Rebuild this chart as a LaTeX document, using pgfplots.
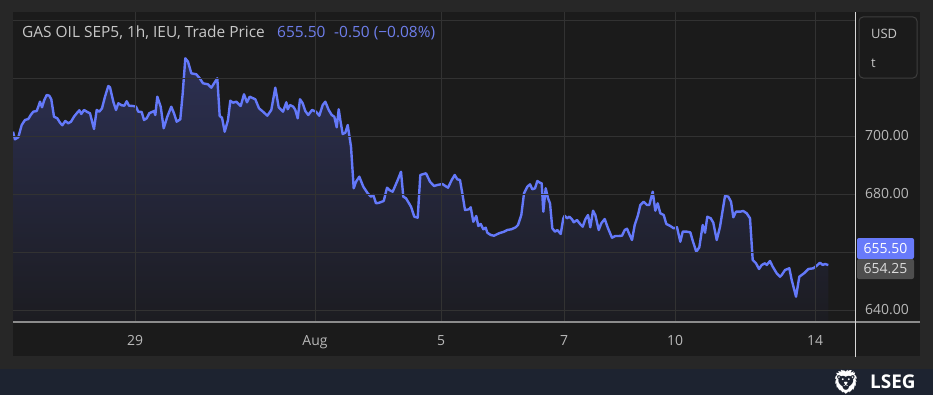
\documentclass[border=0pt]{standalone}
\usepackage{pgfplots}
\pgfplotsset{compat=1.18}
\usepackage{pgfplotstable}
\usepackage{fontspec}
\setmainfont{Open Sans}
\newfontfamily\emojifont{Noto Emoji}
\definecolor{bgout}{RGB}{39,39,39}
\definecolor{panel}{RGB}{27,27,27}
\definecolor{strip}{RGB}{29,35,48}
\definecolor{gridc}{RGB}{50,50,50}
\definecolor{linec}{RGB}{100,121,250}
\definecolor{txtc}{RGB}{200,200,200}
\definecolor{tickc}{RGB}{185,185,185}
\definecolor{bluetxt}{RGB}{110,126,235}
\definecolor{filltop}{RGB}{44,48,82}
\definecolor{fillbot}{RGB}{28,28,33}
\definecolor{lblblue}{RGB}{104,122,250}
\definecolor{lblgray}{RGB}{78,78,78}
\definecolor{boxc}{RGB}{62,62,62}
\definecolor{axisc}{RGB}{140,140,140}

\pgfplotstableread{
x y
13 701.48
15 698.86
18.3 699.55
21.7 703.79
25 705.52
28.3 705.86
30.7 707.24
33.3 708.38
36.7 708.62
38.3 710.10
40 711.83
42 709.90
44.3 712.41
46.7 714.14
49.3 713.90
51.3 712.66
54 706.66
57.3 706.10
60 704.59
62.3 703.69
65.3 705.17
68.3 704.38
71 704.93
74 706.66
76.7 707.83
79.3 708.86
81.3 707.59
84 708.97
87.3 708.28
90 707.83
94 702.41
96.7 708.97
99.3 708.38
102 709.55
105 713.55
108.3 717.24
110 716.79
113.3 711.83
116 708.97
118.3 711.28
121.7 710.59
124.3 710.45
126.7 711.97
129 710.45
133.3 710.34
136 710.10
138.3 708.38
141.7 708.28
144 705.52
146.7 706.10
149.3 707.83
151.3 708.17
154 708.62
155.3 707.24
157.3 713.55
160.7 710.10
163.7 702.66
167.3 706.66
171.3 710.10
174 707.83
176.7 704.93
180.3 705.76
182.7 714.72
185.3 726.79
188 725.62
191.3 721.62
196.3 721.28
199.7 719.90
203 718.17
208 717.83
211.3 716.66
217.3 719.90
219.7 706.90
222 706.31
224.7 701.48
228 705.52
230.3 712.17
233 711.48
236.3 711.83
240.7 710.34
244 714.38
247 711.62
249.7 713.55
255.3 712.66
259 709.55
263 708.38
267.3 707.00
271.3 708.97
275.3 716.66
278.7 709.90
283 708.38
286.3 711.62
287.7 709.21
290 710.69
293.3 710.10
295.3 708.97
297.7 706.10
300 712.66
302.7 711.28
305.3 708.62
308.3 707.24
312 708.97
316 708.38
319.3 707.00
322.7 710.69
325.3 711.83
328.7 708.97
331.7 707.24
334.3 706.66
336.7 703.00
338.7 709.21
340.3 705.52
342.7 700.69
345.3 701.14
347.7 703.79
351 696.31
353.7 681.97
356 684.24
359.3 685.97
363.3 682.52
367.7 680.24
371 679.07
373.3 679.66
376 676.79
379.3 677.00
383.7 677.59
387 682.17
389.3 681.38
392.7 680.79
397.7 684.83
401 687.69
403.3 679.07
406 678.52
411 675.62
414.3 672.17
417.7 671.83
420.3 686.55
426 687.14
430 684.24
434 682.76
437.3 683.10
442.3 683.45
448 682.17
451.7 684.83
454.7 686.55
457.3 685.07
460 684.83
462.3 680.24
465 674.48
469 674.72
470.7 675.41
473.3 670.45
476.3 672.41
478.3 668.97
480.7 669.66
483.3 667.83
485.7 668.38
487.3 666.66
490.7 665.86
494 665.62
499 666.45
504 667.00
507.3 667.59
511.3 667.83
515.7 668.52
518 669.31
521.3 672.76
524 680.24
527.3 682.52
530 683.34
532.3 681.62
535 681.97
537.3 684.48
540 683.90
541.7 683.69
543.3 673.90
545.7 681.97
548 678.52
550 676.79
552.3 668.17
555 667.00
557.3 667.59
560.7 666.21
563.3 671.62
564.7 672.52
567 671.62
569.3 672.17
572 671.28
573.7 670.24
577 671.03
580.3 669.55
582.7 668.72
585.3 671.28
588 672.76
590.3 668.52
593 674.24
595.3 672.76
598.7 667.59
601.3 669.90
604.7 671.38
608 668.17
612 664.93
615.3 665.52
618.7 665.52
622 665.62
624.7 667.59
627 668.03
629.7 665.86
632 664.14
634.7 669.31
638 672.76
640.3 676.21
643.7 677.34
647 676.21
649.3 676.21
652.7 680.79
655.3 674.24
657.7 676.79
660.3 673.34
663.7 672.76
666.3 669.66
670.3 668.97
673.7 668.17
677 668.52
680.3 663.55
682.7 667.00
687 667.00
690.3 666.79
693 663.55
696.3 660.10
699.3 661.62
702.7 669.31
705 666.66
707.3 672.17
710.7 671.62
713.3 670.10
716.7 664.14
720 668.72
722.7 674.48
725 679.31
728.3 679.07
731 677.34
733.3 671.97
736 673.90
740 673.90
743.3 674.14
746.7 673.34
750 671.62
752.7 657.24
756 656.10
759 654.14
761.7 655.52
765 656.10
766.7 655.52
770 656.90
772.7 654.93
776.7 652.66
780 651.48
781.7 652.07
785 653.79
789.3 654.38
791.7 650.34
796 644.59
799.3 651.48
801.7 652.07
804 652.66
808.3 654.14
813.3 654.38
816.7 655.28
820 656.31
822.7 655.52
825 655.86
828.3 655.50
}\pricedata

\begin{document}
\begin{tikzpicture}[x=1bp,y=1bp]
\fill[bgout] (0,0) rectangle (933,395);
\fill[panel] (13,39) rectangle (920,383);
\fill[strip] (0,0) rectangle (933,26);
\begin{axis}[
  at={(13bp,73bp)}, anchor=south west,
  width=842bp, height=310bp, scale only axis,
  xmin=13, xmax=855, ymin=635.86, ymax=742.76,
  axis on top,
  axis line style={draw=none},
  major tick length=0pt,
  grid=major, grid style={gridc, line width=0.8bp},
  xtick={135,315,441,564,675,815},
  xticklabels={29,Aug,5,7,10,14},
  ytick={640,660,680,700,720,740},
  yticklabels={640.00,,680.00,700.00,,},
  yticklabel pos=right,
  ticklabel style={font=\fontsize{14}{16}\selectfont, text=tickc},
  xticklabel style={anchor=base, yshift=-23bp, inner sep=0pt},
  yticklabel style={anchor=west, xshift=10bp, inner sep=0pt},
  clip=true,
]
\addplot[draw=none, top color=filltop, bottom color=fillbot, forget plot] table[x=x,y=y] {\pricedata} -- (axis cs:828.3,635.86) -- (axis cs:13,635.86) -- cycle;
\addplot[linec, line width=2.4bp, line join=round] table[x=x,y=y] {\pricedata};
\end{axis}
% axis lines
\draw[axisc, line width=1.5bp] (13,73) -- (920,73);
\draw[color={rgb,255:red,215;green,215;blue,215}, line width=1bp] (855.5,38) -- (855.5,383);
% price labels
\fill[lblblue, rounded corners=2bp] (857,136) rectangle (914,157);
\node[text=white, font=\fontsize{14}{16}\selectfont, inner sep=0pt] at (885.5,146.5) {655.50};
\fill[lblgray, rounded corners=2bp] (857,116) rectangle (914,136);
\node[text={rgb,255:red,220;green,220;blue,220}, font=\fontsize{14}{16}\selectfont, inner sep=0pt] at (885.5,126) {654.25};
% USD box
\draw[boxc, line width=1bp, rounded corners=4bp, fill=panel] (859,317) rectangle (917,378);
\node[anchor=base west, text=txtc, font=\fontsize{13}{15}\selectfont, inner sep=0pt] at (871,357) {USD};
\node[anchor=base west, text=txtc, font=\fontsize{13}{15}\selectfont, inner sep=0pt] at (871,328) {t};
% title
\node[anchor=base west, text=txtc, font=\fontsize{15.5}{18}\selectfont, inner sep=0pt] at (22,357.3) {GAS OIL SEP5, 1h, IEU, Trade Price};
\node[anchor=base west, text=bluetxt, font=\fontsize{15.5}{18}\selectfont, inner sep=0pt] at (277,357.3) {655.50};
\node[anchor=base west, text=bluetxt, font=\fontsize{15.5}{18}\selectfont, inner sep=0pt] at (334,357.3) {-0.50 (−0.08\%)};
% logo
\node[text=white, font=\emojifont\fontsize{24}{26}\selectfont, inner sep=0pt] at (846,13) {🦁};
\node[anchor=base west, text=white, font=\bfseries\fontsize{19}{21}\selectfont, inner sep=0pt] at (870,6.5) {LSEG};
\pgfresetboundingbox
\useasboundingbox (0,0) rectangle (933,395);
\end{tikzpicture}
\end{document}
